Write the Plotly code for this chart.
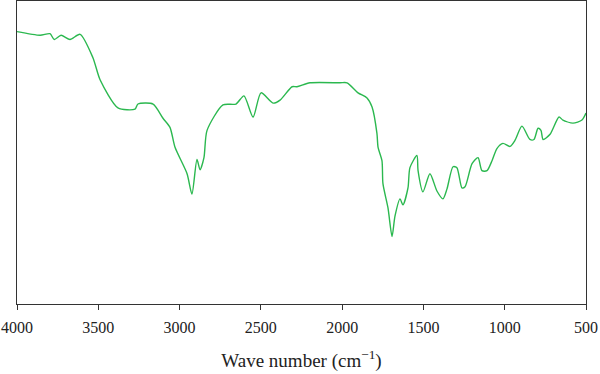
import plotly.graph_objects as go

wavenumber = [4000, 3858, 3797, 3771, 3729, 3674, 3612, 3533, 3489, 3379, 3274, 3256, 3163, 3102,
              3059, 3028, 2954, 2924, 2893, 2874, 2850, 2831, 2733, 2653, 2604, 2548, 2499, 2425,
              2382, 2308, 2278, 2198, 2013, 1970, 1902, 1847, 1816, 1786, 1779, 1755, 1749, 1718,
              1693, 1675, 1644, 1626, 1595, 1583, 1540, 1533, 1503, 1460, 1417, 1380, 1355, 1318,
              1294, 1263, 1244, 1201, 1164, 1140, 1109, 1078, 1048, 1011, 968, 937, 894, 845, 820,
              795, 777, 764, 721, 666, 642, 580, 525, 500]
transmittance = [89.9, 88.7, 89.2, 87.3, 88.7, 87.3, 89.0, 81.3, 74.0, 64.7, 64.3, 66.0, 66.0, 61.3,
                 58.3, 51.7, 43.0, 36.3, 47.7, 44.3, 48.3, 57.3, 65.7, 66.0, 68.7, 61.7, 69.7, 66.3,
                 67.3, 71.7, 71.7, 73.0, 73.0, 73.0, 69.7, 68.0, 65.0, 56.3, 51.7, 47.3, 39.7, 31.7,
                 22.3, 29.0, 34.7, 32.7, 38.3, 45.0, 49.0, 44.0, 37.0, 43.0, 37.3, 34.7, 38.0, 45.3,
                 45.0, 38.3, 38.7, 46.3, 48.3, 44.0, 44.0, 47.3, 51.3, 53.0, 52.0, 54.0, 58.7, 54.3,
                 54.3, 58.0, 57.3, 54.3, 56.0, 61.7, 60.7, 59.7, 60.7, 63.0]
tick_vals = [4000, 3500, 3000, 2500, 2000, 1500, 1000, 500]

fig = go.Figure()
fig.add_trace(go.Scatter(
    x=wavenumber, y=transmittance, mode="lines",
    line=dict(color="#2bb84f", width=1.4, shape="spline", smoothing=0.7),
    showlegend=False, hoverinfo="skip"))

serif = "Liberation Serif, Times New Roman, serif"
fig.update_layout(
    width=600, height=374,
    margin=dict(l=17, r=14, t=1, b=70, autoexpand=False),
    paper_bgcolor="white", plot_bgcolor="white",
    font=dict(family=serif, color="#222222", size=16),
    xaxis=dict(range=[4000, 500], tickvals=tick_vals, ticktext=[str(v) for v in tick_vals],
               showgrid=False, zeroline=False, showline=True, linecolor="#333333", linewidth=1,
               mirror=True, ticks="outside", ticklen=5, tickcolor="#333333",
               ticklabelstandoff=4,
               tickfont=dict(family=serif, size=16),
               title=dict(text="Wave number (cm<sup>−1</sup>)", font=dict(family=serif, size=19),
                          standoff=18)),
    yaxis=dict(range=[0, 100], showticklabels=False, ticks="", showgrid=False, zeroline=False,
               showline=True, linecolor="#333333", linewidth=1, mirror=True),
)

fig.write_html("out.html", config={"displayModeBar": False},
               post_script="document.body.style.margin='0';")
